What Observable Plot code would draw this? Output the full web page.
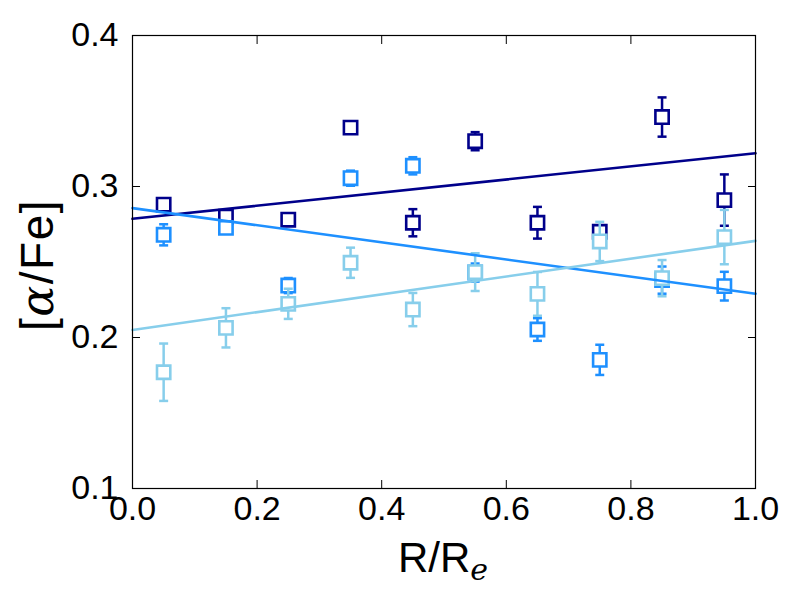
<!DOCTYPE html>
<html><head><meta charset="utf-8">
<script src="https://cdn.jsdelivr.net/npm/d3@7"></script>
<script src="https://cdn.jsdelivr.net/npm/@observablehq/plot@0.6"></script>
<style>body{margin:0;background:#fff}</style>
</head><body><div id="chart"></div>
<script>
const radii = [0.05, 0.15, 0.25, 0.35, 0.45, 0.55, 0.65, 0.75, 0.85, 0.95];
const navyVals = [0.288, 0.280, 0.278, 0.339, 0.276, 0.330, 0.276, 0.270, 0.346, 0.291];
const navyErr  = [0.003, 0.002, 0.002, 0.003, 0.009, 0.006, 0.0105, 0.004, 0.013, 0.017];
const dodgerVals = [0.268, 0.2726, 0.2344, 0.3055, 0.3137, 0.243, 0.2053, 0.1852, 0.238, 0.234];
const dodgerErr  = [0.007, 0.003, 0.005, 0.005, 0.0057, 0.006, 0.0075, 0.010, 0.009, 0.0095];
const skyVals = [0.177, 0.2064, 0.2223, 0.2495, 0.2185, 0.2433, 0.2289, 0.2636, 0.2393, 0.2665];
const skyErr  = [0.019, 0.013, 0.010, 0.010, 0.011, 0.0125, 0.0145, 0.013, 0.012, 0.018];
const fitIntercepts = [0.2786, 0.2857, 0.205];
const fitSlopes = [0.0434, -0.0567, 0.059];
const seriesColors = ["#00008B", "#1E90FF", "#87CEEB"];
const xTicks = [0, 0.2, 0.4, 0.6, 0.8, 1.0];
const yTicks = [0.1, 0.2, 0.3, 0.4];

const seriesVals = [navyVals, dodgerVals, skyVals];
const seriesErr = [navyErr, dodgerErr, skyErr];

const capSymbol = {draw(ctx, size) { const w = 4.5; ctx.moveTo(-w, 0); ctx.lineTo(w, 0); }};

const marks = [];
seriesVals.forEach((vals, s) => {
  const rows = radii.map((r, i) => ({x: r, y: vals[i], lo: vals[i] - seriesErr[s][i], hi: vals[i] + seriesErr[s][i]}));
  const color = seriesColors[s];
  marks.push(Plot.ruleX(rows, {x: "x", y1: "lo", y2: "hi", stroke: color, strokeWidth: 2.5}));
  marks.push(Plot.dot(rows, {x: "x", y: "lo", symbol: capSymbol, stroke: color, strokeWidth: 2.5, r: 3}));
  marks.push(Plot.dot(rows, {x: "x", y: "hi", symbol: capSymbol, stroke: color, strokeWidth: 2.5, r: 3}));
  marks.push(Plot.dot(rows, {x: "x", y: "y", symbol: "square", r: 7.5, fill: "white", stroke: color, strokeWidth: 2.6}));
});
seriesColors.forEach((color, s) => {
  const pts = [0, 1].map(x => ({x, y: fitIntercepts[s] + fitSlopes[s] * x}));
  marks.push(Plot.line(pts, {x: "x", y: "y", stroke: color, strokeWidth: 2.6}));
});

const noLabel = () => null;

const chart = Plot.plot({
  width: 800, height: 600,
  marginLeft: 132, marginRight: 45, marginTop: 35, marginBottom: 112,
  style: {fontFamily: "'Liberation Sans', Arial, sans-serif", fontSize: "34px", background: "white", color: "black"},
  x: {domain: [0, 1]},
  y: {domain: [0.1, 0.4]},
  marks: [
    ...marks,
    Plot.frame({stroke: "black", strokeWidth: 1.2}),
    Plot.axisX(xTicks, {anchor: "bottom", tickSize: 0, tickPadding: 7, tickFormat: d3.format(".1f"), label: null}),
    Plot.axisY(yTicks, {anchor: "left", tickSize: 0, tickPadding: 14, tickFormat: d3.format(".1f"), label: null}),
    Plot.axisX(xTicks, {anchor: "bottom", tickSize: -8, tickFormat: noLabel, label: null, stroke: "black"}),
    Plot.axisX(xTicks, {anchor: "top", tickSize: -8, tickFormat: noLabel, label: null, stroke: "black"}),
    Plot.axisY(yTicks, {anchor: "left", tickSize: -8, tickFormat: noLabel, label: null, stroke: "black"}),
    Plot.axisY(yTicks, {anchor: "right", tickSize: -8, tickFormat: noLabel, label: null, stroke: "black"})
  ]
});

const svg = d3.select(chart);
const xl = svg.append("text").attr("x", 443).attr("y", 572).attr("text-anchor", "middle")
  .attr("font-size", 42).attr("fill", "black").attr("font-family", "'Liberation Sans', Arial, sans-serif");
xl.append("tspan").text("R/R");
xl.append("tspan").attr("font-family", "'DejaVu Serif', serif").attr("font-style", "italic").attr("font-size", 30).attr("dy", 8).text("e");

const yl = svg.append("text").attr("transform", "translate(53,265) rotate(-90)").attr("text-anchor", "middle")
  .attr("font-size", 46).attr("fill", "black").attr("font-family", "'Liberation Sans', Arial, sans-serif")
  .attr("letter-spacing", 1.5);
yl.append("tspan").text("[");
yl.append("tspan").attr("font-family", "'DejaVu Serif', serif").attr("font-style", "italic").text("α");
yl.append("tspan").text("/Fe]");

document.getElementById("chart").appendChild(chart);
</script>
</body></html>
